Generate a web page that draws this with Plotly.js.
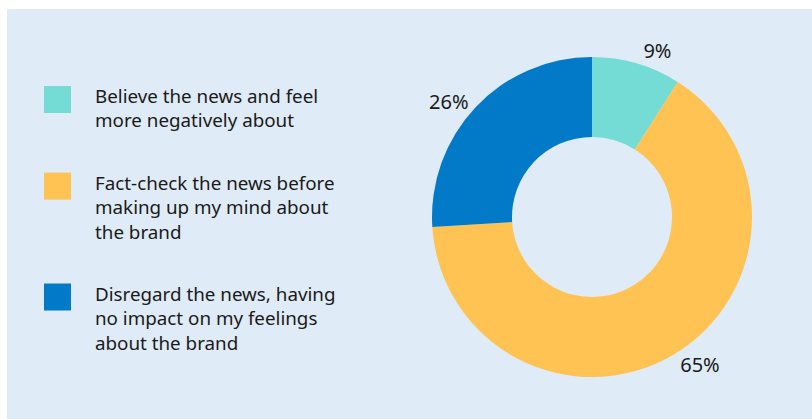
<!DOCTYPE html>
<html><head><meta charset="utf-8">
<script src="https://cdn.plot.ly/plotly-3.0.1.min.js"></script>
<style>html,body{margin:0;padding:0;background:#fff}#chart{width:812px;height:419px}</style>
</head><body><div id="chart"></div>
<script>
const categories = [
  "Believe the news and feel<br>more negatively about",
  "Fact-check the news before<br>making up my mind about<br>the brand",
  "Disregard the news, having<br>no impact on my feelings<br>about the brand"
];
const values = [9, 65, 26];
const colors = ["#74DCD4", "#FFC353", "#027AC8"];

const W = 812, H = 419;
const FONT = "Noto Sans, sans-serif";
const TXT = "#1a1a1a";

const shapes = [{
  type: "rect", xref: "paper", yref: "paper", layer: "below",
  x0: 7 / W, x1: 1, y0: 0, y1: 1 - 9 / H,
  fillcolor: "#DFEBF6", line: { width: 0 }
}];
const annotations = [];
let rowTop = 86;
categories.forEach((c, i) => {
  const nLines = c.split("<br>").length;
  shapes.push({
    type: "rect", xref: "paper", yref: "paper",
    x0: 44 / W, x1: 71 / W, y0: 1 - (rowTop + 27) / H, y1: 1 - rowTop / H,
    fillcolor: colors[i], line: { width: 0 }
  });
  annotations.push({
    xref: "paper", yref: "paper", x: 93 / W, y: 1 - (rowTop - 5) / H,
    xanchor: "left", yanchor: "top", align: "left", showarrow: false,
    text: c, font: { family: FONT, size: 18.8, color: TXT }
  });
  rowTop += nLines * 24.3 + 38;
});

const cx = 592, cy = 217, r = 160;
const data = [{
  type: "pie", hole: 0.5, sort: false, direction: "clockwise", rotation: 0,
  values: values, labels: categories,
  marker: { colors: colors, line: { width: 0 } },
  textinfo: "percent", texttemplate: "%{value}%", textposition: "outside",
  outsidetextfont: { family: FONT, size: 20, color: TXT },
  showlegend: false, hoverinfo: "none",
  domain: { x: [(cx - r) / W, (cx + r) / W], y: [(H - cy - r) / H, (H - cy + r) / H] }
}];
const layout = {
  width: W, height: H, margin: { l: 0, r: 0, t: 0, b: 0 },
  paper_bgcolor: "#ffffff", showlegend: false,
  shapes: shapes, annotations: annotations
};
Plotly.newPlot("chart", data, layout, { displayModeBar: false, staticPlot: true });
</script></body></html>
